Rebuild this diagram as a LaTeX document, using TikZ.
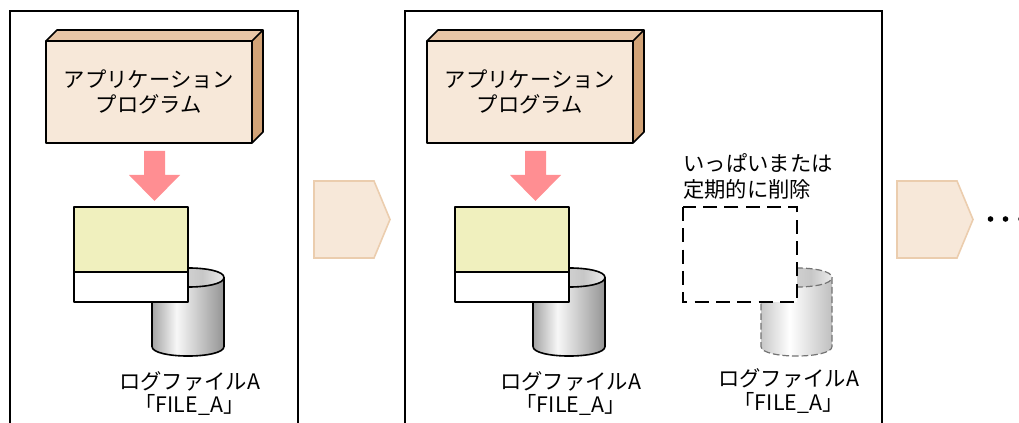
\documentclass[tikz,border=0pt]{standalone}
\usepackage{fontspec}
\setmainfont{Noto Sans CJK JP}
\usepackage{xcolor}
\usetikzlibrary{calc}
\definecolor{boxfront}{HTML}{F7E8D9}
\definecolor{boxtop}{HTML}{E8C6A6}
\definecolor{boxside}{HTML}{D2A377}
\definecolor{chevline}{HTML}{EBCDAE}
\definecolor{arrowred}{HTML}{FF8E92}
\definecolor{bufyellow}{HTML}{F0F0BE}
\pgfdeclarehorizontalshading{diskbody}{100bp}{color(0bp)=(black!36); color(25bp)=(black!36); color(42bp)=(black!3); color(75bp)=(black!42); color(100bp)=(black!42)}
\pgfdeclarehorizontalshading{disktop}{100bp}{color(0bp)=(black!10); color(25bp)=(black!10); color(60bp)=(black!22); color(75bp)=(black!8); color(100bp)=(black!8)}
\pgfdeclarehorizontalshading{gonebody}{100bp}{color(0bp)=(black!22); color(25bp)=(black!22); color(45bp)=(white); color(75bp)=(black!25); color(100bp)=(black!25)}
\tikzset{
  frameline/.style={draw=black, line width=1.2pt},
  boxline/.style={draw=black, line width=1.2pt, line join=round},
  label/.style={font=\fontsize{16pt}{18pt}\selectfont, inner sep=0pt, align=center},
  gone/.style={draw=black!55, line width=0.9pt, dash pattern=on 5pt off 2.2pt},
  chevron/.style={fill=boxfront, draw=chevline, line width=1.2pt},
}
\begin{document}
\begin{tikzpicture}[x=0.75pt, y=-0.75pt]
  \useasboundingbox (0, 0) rectangle (1019, 423);

  \draw [frameline] (10, 430) -- (10, 11) -- (298, 11) -- (298, 430);
  \draw [frameline] (405, 430) -- (405, 11) -- (882, 11) -- (882, 430);

  % the two panels that still hold the file
  \foreach \dx/\nm in {0/a, 381/b} {
    \begin{scope}[xshift=\dx*0.75pt]
      \fill [boxtop] (46, 41) -- (57, 30) -- (263, 30) -- (252, 41) -- cycle;
      \fill [boxside] (252, 41) -- (263, 30) -- (263, 132) -- (252, 143) -- cycle;
      \filldraw [boxline, fill=boxfront] (46, 41) rectangle (252, 143);
      \draw [boxline] (46, 41) -- (57, 30) -- (263, 30) -- (263, 132) -- (252, 143);
      \draw [boxline] (252, 41) -- (263, 30);
      \node [label] (appa\nm) at (149, 79) {アプリケーション};
      \node [label] (appb\nm) at (149, 104) {プログラム};

      \fill [arrowred] (144, 151) -- (165, 151) -- (165, 175) -- (180, 175)
      -- (154.5, 201) -- (129, 175) -- (144, 175) -- cycle;

      \shade [shading=diskbody] (152, 277.5) -- (152, 346.5)
      .. controls (152, 359.2) and (224, 359.2) .. (224, 346.5)
      -- (224, 277.5) -- cycle;
      \shade [shading=disktop] (152, 277.5)
      .. controls (152, 264.8) and (224, 264.8) .. (224, 277.5)
      .. controls (224, 290.2) and (152, 290.2) .. (152, 277.5);
      \draw [boxline] (152, 277.5)
      .. controls (152, 264.8) and (224, 264.8) .. (224, 277.5)
      -- (224, 346.5)
      .. controls (224, 359.2) and (152, 359.2) .. (152, 346.5) -- cycle;
      \draw [boxline] (152, 277.5)
      .. controls (152, 290.2) and (224, 290.2) .. (224, 277.5);

      \filldraw [boxline, fill=bufyellow] (74, 207) rectangle (188, 272);
      \filldraw [boxline, fill=white] (74, 272) rectangle (188, 302);
      \node [label] (disk\nm) at (189.5, 381) {ログファイルA};
      \node [label] (file\nm) at (189.5, 405) {「FILE\_A」};
    \end{scope}
  }

  % the file that gets removed
  \shade [shading=gonebody] (761, 277.5) -- (761, 346.5)
  .. controls (761, 359.2) and (832, 359.2) .. (832, 346.5)
  -- (832, 277.5) -- cycle;
  \shade [shading=disktop] (761, 277.5)
  .. controls (761, 264.8) and (832, 264.8) .. (832, 277.5)
  .. controls (832, 290.2) and (761, 290.2) .. (761, 277.5);
  \draw [gone] (761, 277.5)
  .. controls (761, 264.8) and (832, 264.8) .. (832, 277.5)
  -- (832, 346.5)
  .. controls (832, 359.2) and (761, 359.2) .. (761, 346.5) -- cycle;
  \draw [gone] (761, 277.5)
  .. controls (761, 290.2) and (832, 290.2) .. (832, 277.5);
  \filldraw [fill=white, draw=black, line width=1.2pt, dash pattern=on 10.5pt off 5.5pt]
  (683, 207) rectangle (797, 302);

  \node [label] (fulla) at (758, 163) {いっぱいまたは};
  \node [label] (fullb) at (747, 189) {定期的に削除};
  \node [label] (diskc) at (788.5, 378) {ログファイルA};
  \node [label] (filec) at (788.5, 403) {「FILE\_A」};

  \foreach \cx in {314, 897} {
    \draw [chevron] (\cx, 181) -- (\cx+60, 181) -- (\cx+76, 219.5)
    -- (\cx+60, 258) -- (\cx, 258) -- cycle;
  }

  \foreach \dotx in {990.5, 1005.5, 1021} {
    \fill (\dotx, 219) circle [radius=2.8];
  }
\end{tikzpicture}
\end{document}
